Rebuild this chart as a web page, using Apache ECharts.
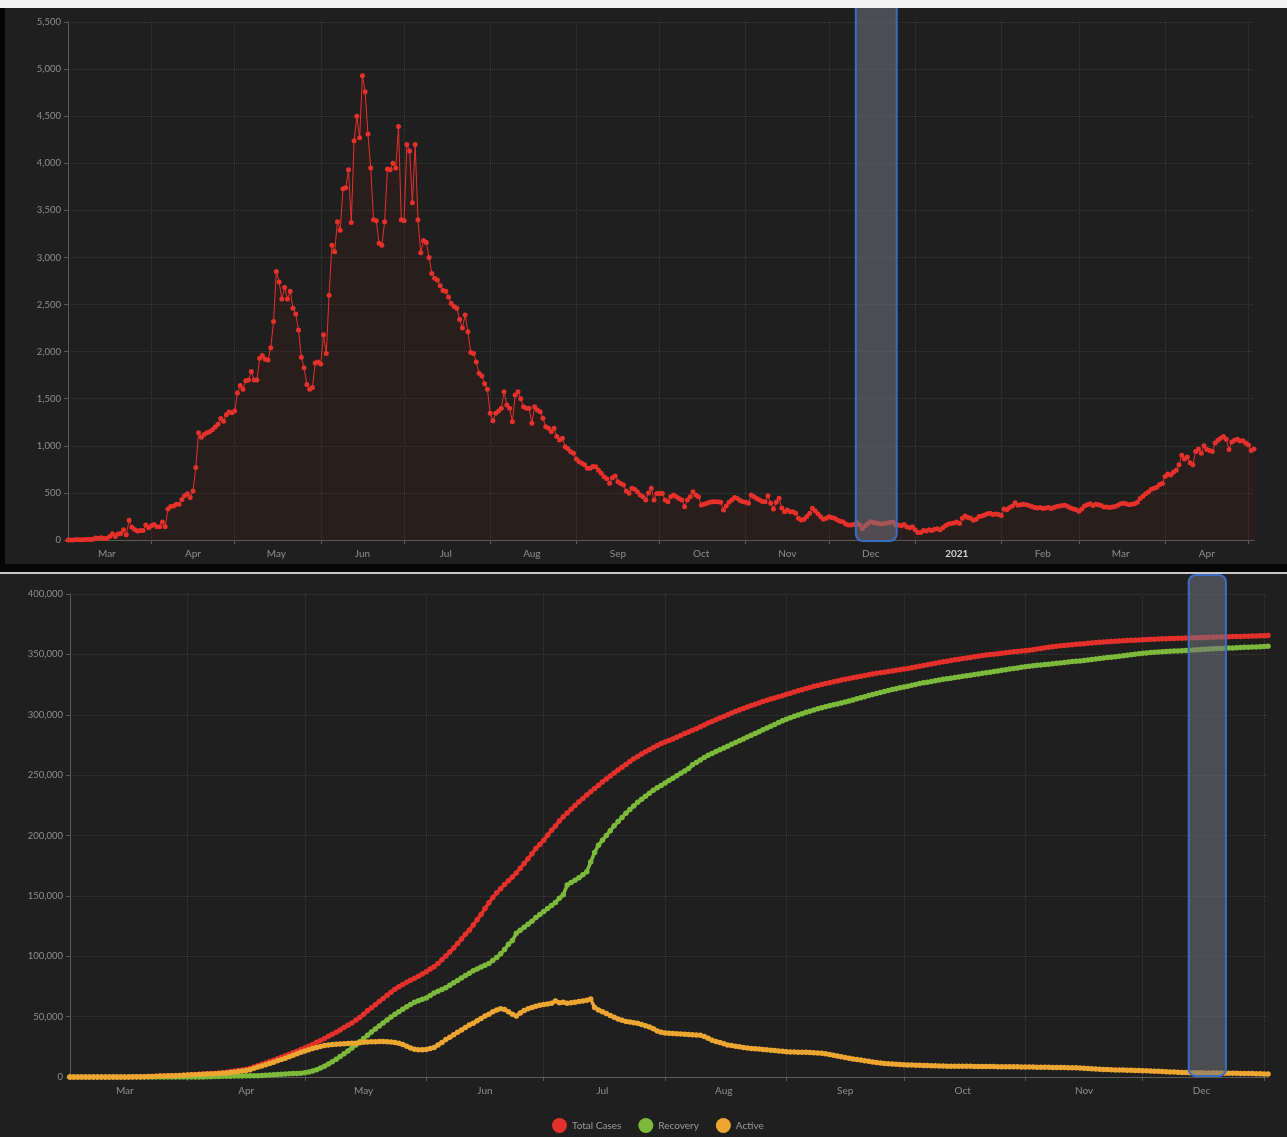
<!DOCTYPE html>
<html>
<head>
<meta charset="utf-8">
<script src="https://cdn.jsdelivr.net/npm/echarts@6/dist/echarts.min.js"></script>
<style>
html, body { margin: 0; padding: 0; background: #1f1f1f; }
#chart { width: 1287px; height: 1137px; }
</style>
</head>
<body>
<div id="chart"></div>
<script>
var monthNames = ['Jan','Feb','Mar','Apr','May','Jun','Jul','Aug','Sep','Oct','Nov','Dec'];

// daily new cases, 2 Mar 2020 .. 3 May 2021 (one row per month)
var dailyCases = [].concat(
  [1,0,0,4,2,3,4,4,5,8,20,18,24,17,15,38,67,36,64,70,110,55,210,135,112,95,100,100,160,130],
  [150,165,140,140,190,140,330,355,360,380,380,430,470,490,450,520,770,1140,1090,1120,1140,1150,1170,1200,1230,1290,1260,1330,1360,1350],
  [1370,1560,1640,1600,1690,1700,1790,1700,1700,1930,1960,1920,1910,2040,2320,2850,2740,2560,2680,2560,2640,2460,2400,2230,1940,1830,1650,1600,1620,1880,1890],
  [1870,2180,1980,2600,3130,3060,3380,3290,3730,3740,3930,3370,4240,4500,4270,4930,4760,4310,3950,3400,3390,3150,3130,3380,3940,3930,4000,3950,4390,3400],
  [3390,4200,4130,3580,4200,3400,3050,3180,3160,3000,2830,2780,2760,2700,2650,2640,2580,2510,2480,2460,2340,2250,2390,2210,1990,1980,1890,1770,1740,1660,1600],
  [1345,1267,1345,1370,1400,1575,1433,1400,1256,1540,1575,1500,1415,1400,1398,1240,1415,1380,1363,1292,1203,1186,1150,1186,1100,1062,1080,991,970,938,920],
  [860,831,814,800,761,761,780,779,740,708,672,650,602,660,680,619,600,584,520,496,549,540,513,478,460,425,500,549,425,495],
  [495,495,425,407,460,478,460,440,425,354,425,460,513,478,460,372,380,389,400,407,407,407,400,319,360,400,425,450,440,420,407],
  [400,389,478,460,440,425,410,407,470,389,330,400,443,340,301,319,301,301,283,230,212,220,250,283,336,310,280,248,220,230],
  [248,240,230,212,200,195,170,159,159,165,180,160,120,150,175,195,185,180,175,170,175,180,185,190,160,160,150,165,140,130,140],
  [110,80,80,100,95,110,100,115,120,110,130,155,170,175,180,190,175,230,255,240,230,210,220,250,255,265,280,285,270,275,270],
  [260,330,320,345,360,395,370,375,380,375,365,355,345,340,345,335,340,345,335,345,355,360,365,370,355,340,330,320],
  [305,330,360,375,385,365,380,375,365,350,350,345,350,355,370,385,390,385,375,380,385,400,440,465,490,510,540,550,560,590,600],
  [675,700,690,720,740,800,900,860,880,820,800,940,965,920,1000,960,950,940,1030,1060,1080,1100,1070,960,1040,1060,1070,1050,1055,1030],
  [1010,950,965]
);

// cumulative totals in thousands, 2 Mar 2020 .. 2 Jan 2021
var totalCases = [].concat(
  [0,0,0,0,0,0,0,0,0,0,0,0,0.1,0.1,0.1,0.1,0.2,0.2,0.3,0.3,0.4,0.5,0.6,0.8,0.9,1.0,1.1,1.2,1.3,1.5],
  [1.7,1.9,2.0,2.2,2.4,2.6,2.8,3.0,3.3,3.7,4.0,4.5,5.0,5.4,5.9,6.4,7.1,8.2,9.3,10.5,11.6,12.8,13.9,15.1,16.3,17.5,18.8,20.1,21.4,22.8],
  [24.1,25.5,27.0,28.7,30.3,31.9,33.7,35.4,37.1,39.0,41.0,42.9,44.8,46.9,49.2,52.0,54.8,57.3,59.9,62.5,65.1,67.7,70.2,72.6,74.8,76.7,78.5,80.2,81.8,83.4,85.3],
  [87.2,89.4,91.4,94.0,97.1,100.2,103.6,106.9,110.6,114.3,118.2,121.6,125.8,130.3,134.6,139.5,144.3,148.6,152.6,156.0,159.4,162.5,165.6,169.0,172.9,176.8,180.8,184.8,189.2,192.6],
  [196.0,200.2,204.3,207.9,212.1,215.5,218.6,221.7,224.9,227.9,230.7,233.5,236.3,239.0,241.6,244.3,246.8,249.3,251.8,254.3,256.6,258.9,261.3,263.5,265.5,267.4,269.3,271.1,272.8,274.5,276.1],
  [277.4,278.7,280.0,281.4,282.8,284.4,285.8,287.2,288.5,290.0,291.6,293.1,294.5,295.9,297.3,298.6,300.0,301.4,302.7,304.0,305.2,306.4,307.6,308.7,309.8,310.9,312.0,313.0,313.9,314.9,315.8],
  [316.9,317.9,318.9,319.9,320.8,321.7,322.6,323.5,324.3,325.1,325.9,326.6,327.3,328.0,328.7,329.4,330.1,330.7,331.3,331.9,332.5,333.1,333.7,334.3,334.8,335.3,335.8,336.3,336.8,337.3],
  [337.8,338.4,339.0,339.6,340.2,340.8,341.4,342.0,342.6,343.2,343.8,344.4,345.0,345.5,346.0,346.5,347.0,347.5,348.0,348.5,349.0,349.4,349.8,350.2,350.6,351.0,351.4,351.8,352.1,352.4,352.7],
  [353.0,353.4,353.9,354.4,354.9,355.4,355.9,356.3,356.7,357.1,357.4,357.7,358.0,358.3,358.6,358.9,359.2,359.5,359.8,360.0,360.2,360.4,360.6,360.8,361.0,361.2,361.4,361.6,361.8,362.0],
  [362.2,362.3,362.5,362.6,362.8,362.9,363.0,363.1,363.2,363.3,363.4,363.5,363.6,363.7,363.8,363.9,364.0,364.1,364.2,364.3,364.4,364.5,364.6,364.7,364.8,364.9,365.0,365.1,365.2,365.3,365.4],
  [365.5,365.6]
);

var recovered = [].concat(
  [0,0,0,0,0,0,0,0,0,0,0,0,0,0,0,0,0,0,0,0,0,0,0,0,0,0,0.1,0.1,0.1,0.1],
  [0.1,0.1,0.1,0.1,0.1,0.2,0.3,0.4,0.5,0.6,0.6,0.7,0.8,0.9,0.9,1.0,1.0,1.0,1.1,1.3,1.4,1.6,1.8,2.0,2.2,2.4,2.6,2.8,3.0,3.2],
  [3.6,4.2,5.0,6.0,7.5,9.0,10.7,12.6,14.6,16.9,19.2,21.6,24.0,26.6,29.2,31.9,34.6,37.2,39.8,42.3,44.8,47.2,49.6,51.9,54.1,56.2,58.2,60.1,61.9,63.2,64.4],
  [65.5,67.5,69.5,71.0,72.5,74.0,76.0,78.0,80.0,82.0,84.0,86.0,88.0,89.5,91.0,92.5,94.0,96.5,99.0,102.0,105.5,110.0,113.0,119.0,121.5,124.0,126.5,129.0,132.0,134.5],
  [137.0,139.5,142.0,144.5,148.0,151.0,159.0,161.0,163.0,165.0,167.5,170.0,178.0,186.0,192.0,196.0,200.0,204.0,208.0,211.5,215.0,218.5,221.5,224.5,227.5,230.0,232.5,235.0,237.5,239.5,241.5],
  [243.5,245.5,247.5,249.5,251.5,253.5,255.5,258.5,260.5,262.5,264.5,266.5,268.0,269.5,271.0,272.5,274.0,275.5,277.0,278.5,280.0,281.5,283.0,284.5,286.0,287.5,289.0,290.5,292.0,293.5,295.0],
  [296.3,297.5,298.7,299.8,300.9,302.0,303.0,304.0,304.9,305.8,306.6,307.4,308.2,309.0,309.8,310.6,311.4,312.3,313.2,314.1,315.0,315.9,316.8,317.7,318.5,319.3,320.1,320.9,321.6,322.3],
  [323.0,323.7,324.4,325.1,325.8,326.4,327.0,327.6,328.2,328.8,329.3,329.8,330.3,330.8,331.3,331.8,332.3,332.8,333.3,333.8,334.3,334.8,335.3,335.8,336.3,336.8,337.3,337.8,338.3,338.8,339.3],
  [339.7,340.1,340.5,340.9,341.3,341.6,341.9,342.3,342.6,342.9,343.3,343.6,344.0,344.3,344.6,345.0,345.4,345.8,346.2,346.6,347.0,347.4,347.7,348.1,348.5,348.9,349.3,349.7,350.1,350.5],
  [350.9,351.2,351.5,351.8,352.0,352.2,352.4,352.5,352.7,352.8,353.0,353.2,353.4,353.6,353.8,354.0,354.2,354.4,354.6,354.8,354.9,355.0,355.2,355.3,355.5,355.6,355.8,355.9,356.1,356.2,356.4],
  [356.5,356.7]
);

var activeCases = [].concat(
  [0,0,0,0,0,0,0,0,0,0,0,0,0.1,0.1,0.1,0.1,0.2,0.2,0.3,0.3,0.4,0.5,0.6,0.8,0.9,1.0,1.0,1.1,1.2,1.4],
  [1.6,1.8,1.9,2.1,2.3,2.4,2.5,2.6,2.8,3.1,3.4,3.8,4.2,4.5,5.0,5.4,6.1,7.2,8.2,9.2,10.2,11.2,12.3,13.4,14.5,15.6,16.8,18.0,19.3,20.5],
  [21.5,22.5,23.5,24.5,25.3,26.0,26.5,26.9,27.2,27.4,27.6,27.8,27.9,28.0,28.4,28.8,29.0,29.1,29.2,29.3,29.3,29.2,29.0,28.6,28.0,27.0,25.5,24.0,23.0,22.6,22.5],
  [22.8,23.5,24.5,26.5,28.5,31.0,33.0,35.0,37.0,39.0,41.0,43.0,44.5,46.5,48.5,50.5,52.0,54.0,55.5,56.5,56.0,54.0,52.0,50.5,53.0,55.0,56.5,57.5,58.5,59.5],
  [60.0,60.5,61.0,63.0,61.5,62.0,61.0,61.5,62.0,62.5,63.0,63.5,64.5,57.5,55.5,54.0,52.5,51.0,49.5,48.0,47.0,46.0,45.5,45.0,44.5,43.5,42.5,41.5,40.0,38.0,37.0],
  [36.5,36.3,36.0,35.8,35.6,35.4,35.2,35.0,34.8,34.5,33.5,32.0,30.5,29.5,28.5,27.5,26.5,26.0,25.5,25.0,24.5,24.0,23.7,23.4,23.1,22.8,22.5,22.2,21.9,21.6,21.3],
  [21.0,20.8,20.7,20.6,20.5,20.4,20.2,20.0,19.8,19.6,19.2,18.7,18.0,17.4,16.8,16.2,15.6,15.0,14.5,14.1,13.5,13.0,12.5,12.0,11.6,11.2,10.9,10.7,10.5,10.3],
  [10.2,10.0,9.9,9.8,9.7,9.6,9.5,9.4,9.3,9.2,9.1,9.0,9.0,8.9,8.9,8.8,8.8,8.8,8.7,8.7,8.7,8.6,8.6,8.6,8.5,8.5,8.5,8.4,8.4,8.4,8.3],
  [8.3,8.2,8.2,8.1,8.1,8.0,8.0,7.9,7.9,7.8,7.8,7.7,7.6,7.6,7.5,7.3,7.1,6.9,6.7,6.5,6.3,6.2,6.0,5.9,5.8,5.7,5.6,5.5,5.4,5.3],
  [5.2,5.1,5.0,4.8,4.7,4.5,4.4,4.2,4.1,3.9,3.8,3.7,3.6,3.6,3.5,3.5,3.4,3.4,3.3,3.3,3.3,3.2,3.2,3.1,3.1,3.0,3.0,2.9,2.8,2.7,2.6],
  [2.5,2.4]
);

var seriesNames = ['Total Cases', 'Recovery', 'Active'];
var seriesColors = ['#e3302a', '#7db93b', '#eca631'];

// day categories
function dayList(y, m, d, n) {
  var out = [];
  var t0 = Date.UTC(y, m - 1, d);
  for (var i = 0; i < n; i++) {
    out.push(new Date(t0 + i * 86400000).toISOString().slice(0, 10));
  }
  return out;
}
var topDays = dayList(2020, 3, 2, dailyCases.length);
var bottomDays = dayList(2020, 3, 2, totalCases.length);

var axisGrey = '#5a5a5a';
var gridLine = { color: '#3a3a3a', type: 'dotted', width: 1 };
var labelGrey = '#8e8e8e';

function isMonthStart(i, v) { return v.slice(8) === '01'; }
function isMidMonth(i, v) { return v.slice(8) === '16'; }

function monthAxis(gridIndex, days) {
  return {
    type: 'category',
    gridIndex: gridIndex,
    data: days,
    boundaryGap: false,
    axisLine: { lineStyle: { color: axisGrey } },
    axisTick: { show: true, length: 4, interval: isMonthStart, lineStyle: { color: axisGrey } },
    splitLine: { show: true, interval: isMonthStart, lineStyle: gridLine },
    axisLabel: {
      interval: isMidMonth,
      color: labelGrey,
      fontSize: 10,
      margin: 9,
      fontFamily: 'Lato',
      formatter: function (v) {
        var m = +v.slice(5, 7);
        if (m === 1) return '{yr|' + v.slice(0, 4) + '}';
        return monthNames[m - 1];
      },
      rich: { yr: { fontWeight: 'bold', color: '#d0d0d0', fontSize: 10, fontFamily: 'Lato' } }
    }
  };
}

function valueAxis(gridIndex, max, step, scale) {
  return {
    type: 'value',
    gridIndex: gridIndex,
    min: 0,
    max: max,
    interval: step,
    axisLine: { show: true, lineStyle: { color: axisGrey } },
    axisTick: { show: true, length: 4, lineStyle: { color: axisGrey } },
    splitLine: { show: true, lineStyle: gridLine },
    axisLabel: {
      color: labelGrey,
      fontSize: 9.5,
      margin: 7,
      fontFamily: 'Lato',
      formatter: function (v) { return (v * scale).toLocaleString('en-US'); }
    }
  };
}

var chart = echarts.init(document.getElementById('chart'));

var bottomSeries = [totalCases, recovered, activeCases].map(function (arr, k) {
  return {
    name: seriesNames[k],
    type: 'line',
    xAxisIndex: 1,
    yAxisIndex: 1,
    data: arr,
    symbol: 'circle',
    symbolSize: 5.5,
    showAllSymbol: true,
    itemStyle: { color: seriesColors[k] },
    lineStyle: { width: 3.5, color: seriesColors[k] },
    z: 3 + k
  };
});

var option = {
  backgroundColor: '#1f1f1f',
  animation: false,
  textStyle: { fontFamily: 'Lato' },
  grid: [
    { left: 68, top: 22, width: 1186, height: 518 },
    { left: 70, top: 594, width: 1198, height: 483 }
  ],
  xAxis: [monthAxis(0, topDays), monthAxis(1, bottomDays)],
  yAxis: [valueAxis(0, 5500, 500, 1), valueAxis(1, 400, 50, 1000)],
  legend: {
    data: seriesNames,
    top: 1113,
    left: 547,
    icon: 'circle',
    itemWidth: 15,
    itemHeight: 15,
    itemGap: 17,
    textStyle: { color: '#9a9a9a', fontSize: 10, fontFamily: 'Lato' }
  },
  series: [{
    name: 'Daily Cases',
    type: 'line',
    xAxisIndex: 0,
    yAxisIndex: 0,
    data: dailyCases,
    symbol: 'circle',
    symbolSize: 5,
    showAllSymbol: true,
    itemStyle: { color: '#e6302a' },
    lineStyle: { width: 1, color: '#e6302a' },
    areaStyle: { color: 'rgba(160,25,15,0.13)' }
  }].concat(bottomSeries)
};
chart.setOption(option);

// highlight boxes placed on the date axes, plus the screenshot frame
var tx1 = chart.convertToPixel({ xAxisIndex: 0 }, topDays.indexOf('2020-12-11'));
var tx2 = chart.convertToPixel({ xAxisIndex: 0 }, topDays.indexOf('2020-12-25'));
var ty0 = chart.convertToPixel({ yAxisIndex: 0 }, 0);
var bx1 = chart.convertToPixel({ xAxisIndex: 1 }, bottomDays.indexOf('2020-12-13'));
var bx2 = chart.convertToPixel({ xAxisIndex: 1 }, bottomDays.indexOf('2020-12-22'));
var by0 = chart.convertToPixel({ yAxisIndex: 1 }, 0);
var byTop = chart.convertToPixel({ yAxisIndex: 1 }, 400);

var boxStyle = { fill: 'rgba(112,114,126,0.55)', stroke: '#3b6cc2', lineWidth: 2 };
chart.setOption({
  graphic: [
    { type: 'rect', z: 100, shape: { x: tx1 - 1, y: 0, width: tx2 - tx1 + 2, height: ty0 + 1, r: 7 }, style: boxStyle },
    { type: 'rect', z: 100, shape: { x: bx1 - 1, y: byTop - 19, width: bx2 - bx1 + 2, height: by0 - byTop + 18, r: 7 }, style: boxStyle },
    { type: 'rect', z: 110, shape: { x: 0, y: 0, width: 1287, height: 8 }, style: { fill: '#f4f4f4' } },
    { type: 'rect', z: 110, shape: { x: 0, y: 8, width: 5, height: 560 }, style: { fill: '#050505' } },
    { type: 'rect', z: 110, shape: { x: 0, y: 564, width: 1287, height: 8 }, style: { fill: '#070707' } },
    { type: 'rect', z: 110, shape: { x: 0, y: 572, width: 1287, height: 2 }, style: { fill: '#c9c9c9' } }
  ]
});
</script>
</body>
</html>
